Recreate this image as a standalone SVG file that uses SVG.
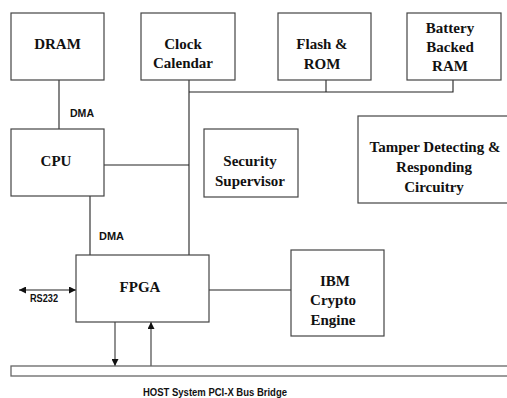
<svg xmlns="http://www.w3.org/2000/svg" width="507" height="398" viewBox="0 0 507 398">
<style>
.box{fill:#fff;stroke:#444;stroke-width:1.2}
.t{font-family:"Liberation Serif","Times New Roman",serif;font-weight:bold;font-size:15px;fill:#111;text-anchor:middle}
.s{font-family:"Liberation Sans",Arial,sans-serif;font-weight:bold;font-size:10px;fill:#111}
.ln{stroke:#222;stroke-width:1.1;fill:none}
.ar{stroke:#555;stroke-width:1.3;fill:none}
</style>
<defs>
<marker id="ah" viewBox="0 0 10 10" refX="10" refY="5" markerWidth="7" markerHeight="7" markerUnits="userSpaceOnUse" orient="auto-start-reverse">
<path d="M0,0 L10,5 L0,10 z" fill="#111"/>
</marker>
</defs>
<rect x="0" y="0" width="507" height="398" fill="#fff"/>
<g id="connectors">
<line class="ln" x1="59" y1="80" x2="59" y2="129"/>
<line class="ln" x1="104" y1="165" x2="189" y2="165"/>
<line class="ln" x1="189" y1="80" x2="189" y2="255"/>
<polyline class="ln" points="189,92 453,92 453,80"/>
<line class="ln" x1="326" y1="80" x2="326" y2="92"/>
<line class="ln" x1="90" y1="196" x2="90" y2="255"/>
<line class="ln" x1="209" y1="290" x2="291" y2="290"/>
<line class="ln" x1="19" y1="290" x2="76" y2="290" marker-start="url(#ah)" marker-end="url(#ah)"/>
<line class="ar" x1="115" y1="322" x2="115" y2="366" marker-end="url(#ah)"/>
<line class="ar" x1="151" y1="366" x2="151" y2="322" marker-end="url(#ah)"/>
<text class="s" x="70" y="117" textLength="24" lengthAdjust="spacingAndGlyphs">DMA</text>
<text class="s" x="99" y="240" textLength="25" lengthAdjust="spacingAndGlyphs">DMA</text>
<text class="s" x="30" y="302" textLength="28" lengthAdjust="spacingAndGlyphs">RS232</text>
</g>
<g id="dram"><rect class="box" x="11" y="13" width="93" height="67"/><text class="t" x="57.5" y="49">DRAM</text></g>
<g id="clock"><rect class="box" x="141" y="13" width="94" height="67"/><text class="t" x="183" y="49">Clock</text><text class="t" x="183" y="68">Calendar</text></g>
<g id="flash"><rect class="box" x="278" y="13" width="93" height="67"/><text class="t" x="322" y="49">Flash &amp;</text><text class="t" x="322" y="69">ROM</text></g>
<g id="bbram"><rect class="box" x="407" y="13" width="94" height="67"/><text class="t" x="450" y="33">Battery</text><text class="t" x="450" y="52">Backed</text><text class="t" x="450" y="71">RAM</text></g>
<g id="cpu"><rect class="box" x="11" y="129" width="93" height="67"/><text class="t" x="56" y="166">CPU</text></g>
<g id="security"><rect class="box" x="204" y="129" width="94" height="68"/><text class="t" x="250" y="166">Security</text><text class="t" x="250" y="186">Supervisor</text></g>
<g id="tamper"><rect class="box" x="358" y="116" width="160" height="87"/><text class="t" x="435" y="152">Tamper Detecting &amp;</text><text class="t" x="434" y="172">Responding</text><text class="t" x="434" y="192">Circuitry</text></g>
<g id="fpga"><rect class="box" x="76" y="255" width="133" height="67"/><text class="t" x="140" y="292">FPGA</text></g>
<g id="ibm"><rect class="box" x="291" y="250" width="93" height="86"/><text class="t" x="335" y="286">IBM</text><text class="t" x="333" y="305">Crypto</text><text class="t" x="333" y="325">Engine</text></g>
<g id="bus"><rect x="11" y="366" width="510" height="10" fill="#fff" stroke="#666" stroke-width="1.3"/><text class="s" x="143" y="396" font-size="11" textLength="144" lengthAdjust="spacingAndGlyphs">HOST System PCI-X Bus Bridge</text></g>
</svg>
